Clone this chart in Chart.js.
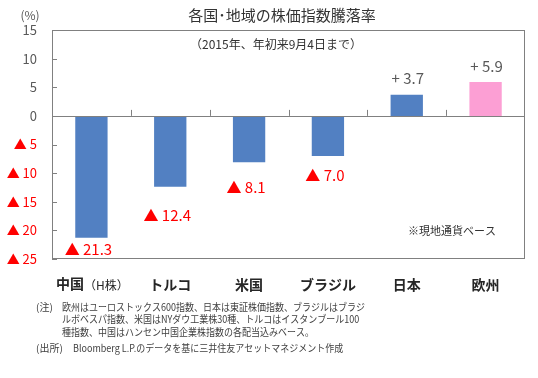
<!DOCTYPE html>
<html><head><meta charset="utf-8">
<script src="https://cdn.jsdelivr.net/npm/chart.js@4/dist/chart.umd.min.js"></script>
<style>html,body{margin:0;padding:0;background:#fff}#wrap{width:538px;height:378px;position:relative}</style>
</head><body><div id="wrap"><canvas id="c" width="538" height="378"></canvas></div>
<script>
const categories = ['中国（H株）', 'トルコ', '米国', 'ブラジル', '日本', '欧州'];
const changes = [-21.3, -12.4, -8.1, -7.0, 3.7, 5.9];
const barColors = ['#5280c2', '#5280c2', '#5280c2', '#5280c2', '#5280c2', '#fc9fd4'];
const yTicks = [15, 10, 5, 0, -5, -10, -15, -20, -25];
const title = '各国･地域の株価指数騰落率';
const subtitle = '（2015年、年初来9月4日まで）';
const unitLabel = '(%)';
const noteInPlot = '※現地通貨ベース';
const footnotes = [
  ['(注)', '欧州はユーロストックス600指数、日本は東証株価指数、ブラジルはブラジ'],
  ['', 'ルボベスパ指数、米国はNYダウ工業株30種、トルコはイスタンブール100'],
  ['', '種指数、中国はハンセン中国企業株指数の各配当込みベース。'],
  ['(出所)', 'Bloomberg L.P.のデータを基に三井住友アセットマネジメント作成']
];
const FONT = '"Noto Sans CJK JP", "Noto Sans", sans-serif';
const GRAY = '#595959';

const overlay = {
  id: 'overlay',
  afterDatasetsDraw(chart) {
    const ctx = chart.ctx, a = chart.chartArea;
    const ys = chart.scales.y, xs = chart.scales.x;
    const y0 = ys.getPixelForValue(0);
    ctx.save();
    ctx.strokeStyle = '#808080'; ctx.lineWidth = 1;
    ctx.strokeRect(Math.round(a.left) + 0.5, Math.round(a.top) + 0.5, Math.round(a.right - a.left) - 1, Math.round(a.bottom - a.top) - 1);
    ctx.beginPath();
    ctx.moveTo(a.left, Math.round(y0) + 0.5); ctx.lineTo(a.right, Math.round(y0) + 0.5);
    ctx.stroke();
    for (let i = 1; i < categories.length; i++) {
      const x = Math.round((xs.getPixelForValue(i - 1) + xs.getPixelForValue(i)) / 2) + 0.5;
      ctx.beginPath(); ctx.moveTo(x, y0); ctx.lineTo(x, y0 - 6); ctx.stroke();
    }
    yTicks.forEach(v => {
      const y = Math.round(ys.getPixelForValue(v)) + 0.5;
      ctx.beginPath(); ctx.moveTo(a.left, y); ctx.lineTo(a.left + 5, y); ctx.stroke();
    });
    // data labels (label gaps below the bar ends are hand-placed, as in the original)
    const negGap = [11, 28, 25, 19];
    const meta = chart.getDatasetMeta(0);
    meta.data.forEach((bar, i) => {
      const v = changes[i];
      ctx.textAlign = 'center'; ctx.textBaseline = 'middle';
      ctx.font = '15px ' + FONT;
      if (v < 0) {
        ctx.fillStyle = '#ff0000';
        ctx.fillText('▲ ' + Math.abs(v).toFixed(1), bar.x - 3, bar.y + negGap[i]);
      } else {
        ctx.fillStyle = GRAY;
        ctx.fillText('+ ' + v.toFixed(1), bar.x + 1, bar.y - 16);
      }
    });
    ctx.fillStyle = '#333333';
    ctx.font = '15px ' + FONT; ctx.textAlign = 'center';
    ctx.fillText(title, 282, 15);
    ctx.font = '12px ' + FONT;
    ctx.fillText(subtitle, 276, 44);
    ctx.fillStyle = GRAY;
    ctx.fillText(unitLabel, 30, 15);
    ctx.fillStyle = '#333333';
    ctx.font = '11px ' + FONT; ctx.textAlign = 'left';
    ctx.fillText(noteInPlot, 408, 231);
    // China label with smaller (H株)
    const cx = xs.getPixelForValue(0);
    ctx.font = 'bold 14px ' + FONT;
    const w1 = ctx.measureText('中国').width;
    ctx.font = '12px ' + FONT;
    const w2 = ctx.measureText('（H株）').width;
    const sx = cx - (w1 + w2) / 2 + 1;
    ctx.fillStyle = '#262626';
    ctx.font = 'bold 14px ' + FONT;
    ctx.fillText('中国', sx, 284);
    ctx.font = '12px ' + FONT;
    ctx.fillText('（H株）', sx + w1, 285);
    // footnotes (horizontally condensed to match original)
    ctx.fillStyle = '#404040';
    ctx.font = '10px ' + FONT;
    const lineY = [307, 319.5, 332, 348];
    footnotes.forEach((f, i) => {
      if (f[0]) ctx.fillText(f[0], 36, lineY[i]);
      const tx = i === 3 ? 73 : 62;
      ctx.save();
      ctx.translate(tx, lineY[i]);
      ctx.scale(0.9, 1);
      ctx.fillText(f[1], 0, 0);
      ctx.restore();
    });
    ctx.restore();
  }
};

new Chart(document.getElementById('c'), {
  type: 'bar',
  data: {
    labels: categories,
    datasets: [{ data: changes, backgroundColor: barColors, borderWidth: 0,
      categoryPercentage: 1, barPercentage: 0.41 }]
  },
  options: {
    responsive: false, animation: false, devicePixelRatio: 1,
    layout: { padding: { top: 30, right: 13, left: 0, bottom: 0 } },
    plugins: { legend: { display: false }, tooltip: { enabled: false } },
    scales: {
      x: {
        grid: { display: false, drawTicks: false },
        border: { display: false },
        ticks: {
          padding: 17, color: '#262626', font: { family: FONT, size: 14, weight: 'bold' },
          maxRotation: 0, autoSkip: false,
          callback: (v, i) => i === 0 ? '' : categories[i]
        },
        afterFit: s => { s.height = 119; }
      },
      y: {
        min: -25, max: 15,
        grid: { display: false, drawTicks: false },
        border: { display: false },
        afterBuildTicks: s => { s.ticks = yTicks.map(v => ({ value: v })); },
        ticks: {
          padding: 15, font: { family: FONT, size: 13 },
          color: c => (c.tick && c.tick.value < 0) ? '#ff0000' : GRAY,
          callback: v => v < 0 ? '▲ ' + (-v) : String(v)
        },
        afterFit: s => { s.width = 52; }
      }
    }
  },
  plugins: [overlay]
});
</script></body></html>
